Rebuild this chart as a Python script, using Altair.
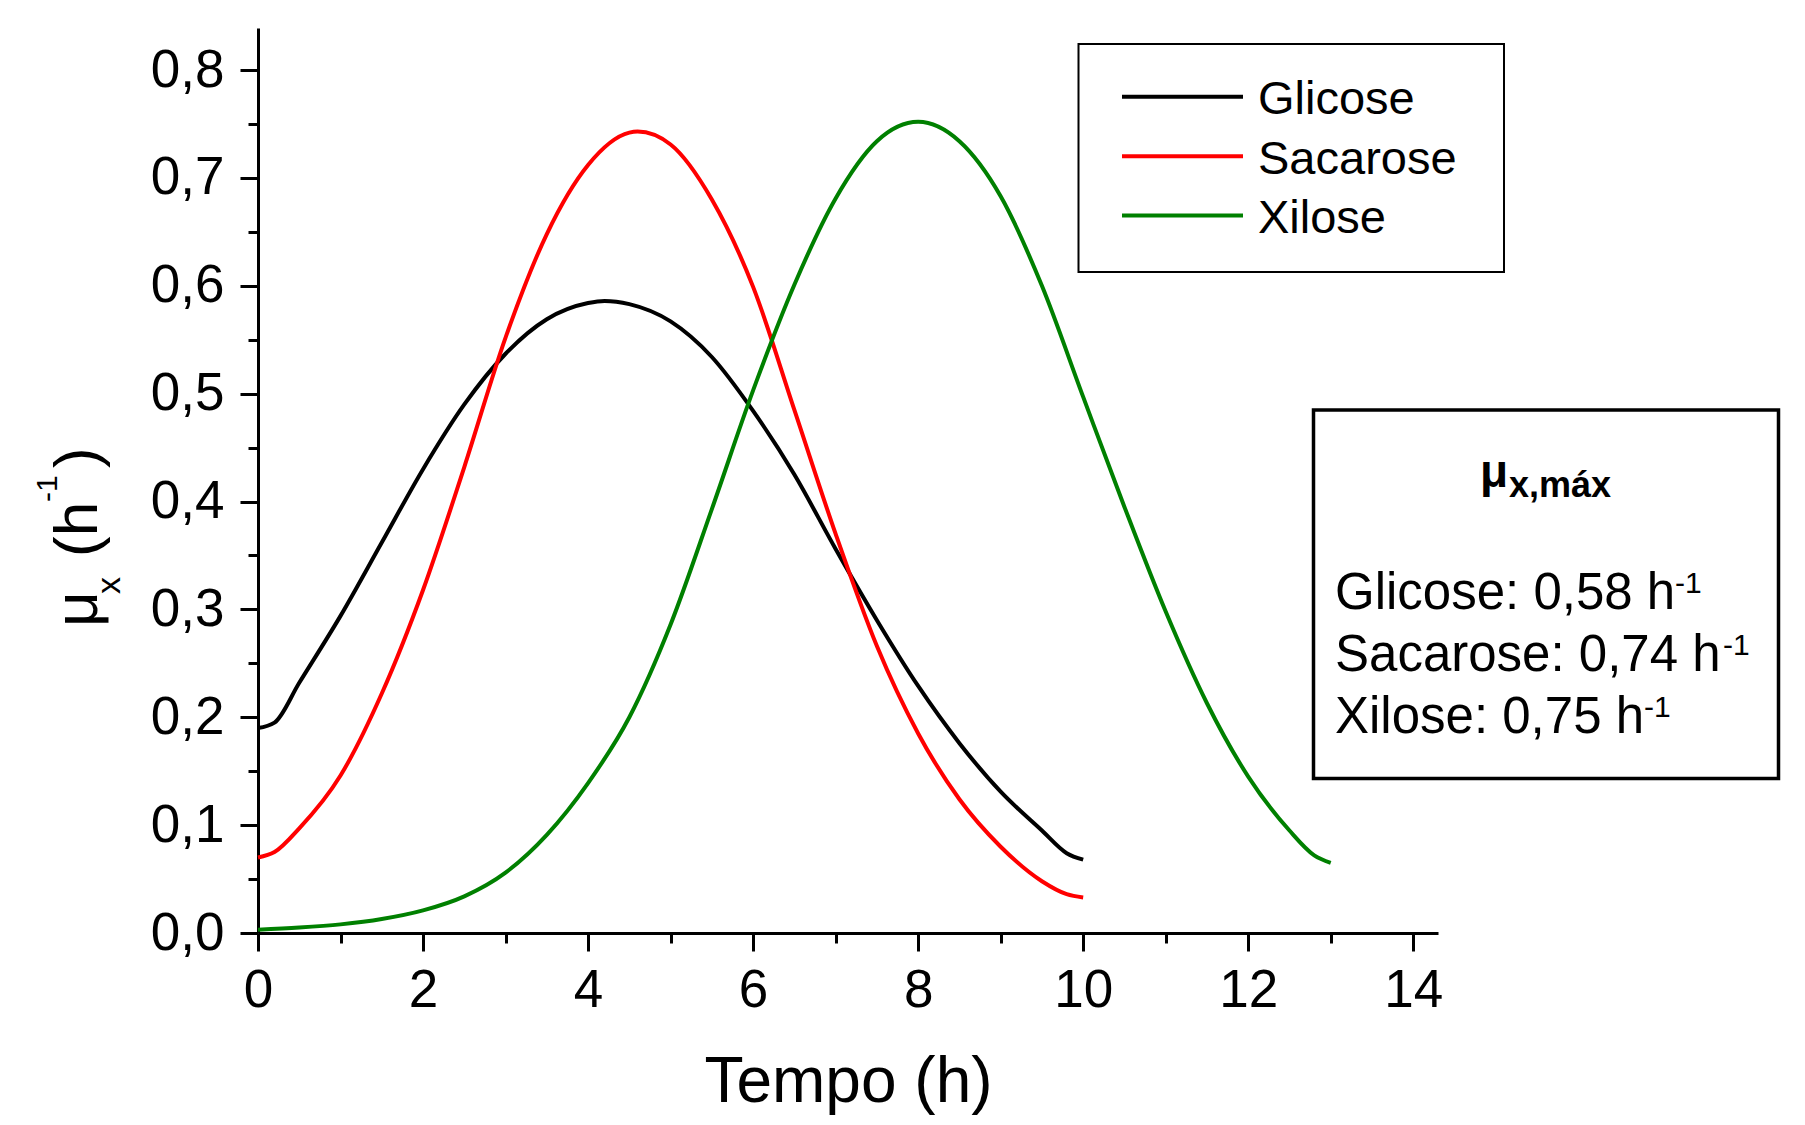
import altair as alt
import pandas as pd

# ---------------- data ----------------
t_glicose = [0, 0.2, 0.5, 1, 1.5, 2, 2.5, 3, 3.5, 4, 4.2, 4.5, 5, 5.5, 6, 6.5, 7, 7.5, 8, 8.5, 9, 9.5, 9.8, 10]
mu_glicose = [0.190, 0.195, 0.232, 0.294, 0.362, 0.430, 0.490, 0.537, 0.569, 0.584, 0.586, 0.583, 0.567,
              0.534, 0.484, 0.425, 0.356, 0.290, 0.229, 0.176, 0.131, 0.095, 0.074, 0.068]

t_sacarose = [0, 0.2, 0.5, 1, 1.5, 2, 2.5, 3, 3.5, 4, 4.5, 4.6, 5, 5.5, 6, 6.5, 7, 7.5, 8, 8.5, 9, 9.5, 9.8, 10]
mu_sacarose = [0.070, 0.075, 0.097, 0.146, 0.222, 0.318, 0.432, 0.552, 0.648, 0.712, 0.742, 0.743, 0.731,
               0.680, 0.599, 0.485, 0.370, 0.266, 0.185, 0.124, 0.080, 0.048, 0.036, 0.033]

t_xilose = [0, 0.5, 1, 1.5, 2, 2.5, 3, 3.5, 4, 4.5, 5, 5.5, 6, 6.5, 7, 7.5, 8, 8.5, 9, 9.5, 10,
            10.5, 11, 11.5, 12, 12.5, 12.8, 13]
mu_xilose = [0.003, 0.005, 0.008, 0.013, 0.021, 0.034, 0.056, 0.091, 0.139, 0.200, 0.286, 0.393, 0.503,
             0.601, 0.681, 0.734, 0.752, 0.734, 0.683, 0.600, 0.497, 0.395, 0.298, 0.213, 0.145, 0.095,
             0.072, 0.065]

series_names = ["Glicose", "Sacarose", "Xilose"]
series_colors = ["#000000", "#ff0000", "#008000"]
mu_max_labels = ["0,58", "0,74", "0,75"]

x_tick_values = list(range(0, 15))
y_tick_values = [round(0.05 * i, 2) for i in range(17)]

# ---------------- build table ----------------
rows = []
for name, ts, vs in zip(series_names, [t_glicose, t_sacarose, t_xilose],
                        [mu_glicose, mu_sacarose, mu_xilose]):
    for t, v in zip(ts, vs):
        rows.append({"serie": name, "t": t, "mu": v})
df = pd.DataFrame(rows)

FONT = "Liberation Sans"
one = pd.DataFrame({"k": [0]})

x_axis = alt.Axis(
    values=x_tick_values,
    labelExpr="datum.value % 2 == 0 ? datum.label : ''",
    tickSize={"condition": {"test": "datum.value % 2 == 0", "value": 18}, "value": 10},
    tickWidth=3, tickColor="black", domainWidth=3, domainColor="black",
    labelFont=FONT, labelFontSize=53, labelColor="black", labelPadding=13,
    labelFlush=False, labelOverlap=False, grid=False,
    title="Tempo (h)", titleFont=FONT, titleFontSize=64, titleFontWeight="normal",
    titleColor="black", titleY=117,
)
y_axis = alt.Axis(
    values=y_tick_values,
    labelExpr="(round(datum.value*100) % 10 == 0) ? replace(format(datum.value, '.1f'), '.', ',') : ''",
    tickSize={"condition": {"test": "round(datum.value*100) % 10 == 0", "value": 18}, "value": 10},
    tickWidth=3, tickColor="black", domainWidth=3, domainColor="black",
    labelFont=FONT, labelFontSize=53, labelColor="black", labelPadding=16,
    labelFlush=False, labelOverlap=False, grid=False, title=None,
)

lines = alt.Chart(df).mark_line(strokeWidth=4, interpolate="monotone").encode(
    x=alt.X("t:Q", scale=alt.Scale(domain=[0, 14.3], nice=False, zero=False), axis=x_axis),
    y=alt.Y("mu:Q", scale=alt.Scale(domain=[0, 0.839], nice=False), axis=y_axis),
    color=alt.Color("serie:N", scale=alt.Scale(domain=series_names, range=series_colors), legend=None),
)


def txt(s, x, y, size, weight="normal", angle=None):
    kw = dict(align="left", baseline="alphabetic", font=FONT, fontSize=size,
              fontWeight=weight, color="black")
    if angle is not None:
        kw["angle"] = angle
    return alt.Chart(one).mark_text(**kw).encode(
        x=alt.value(x), y=alt.value(y), text=alt.value(s))


layers = [lines]

# y-axis title: mu_x (h^-1)
layers += [
    txt("μ", -161, 599, 62, angle=270),
    txt("x", -138, 566, 34, angle=270),
    txt("(h", -161, 529, 62, angle=270),
    txt("-1", -201, 474, 30, angle=270),
    txt(")", -161, 440, 62, angle=270),
]

# legend box
layers.append(alt.Chart(one).mark_rect(fillOpacity=0, stroke="black", strokeWidth=2).encode(
    x=alt.value(820.5), x2=alt.value(1246), y=alt.value(16), y2=alt.value(244)))
leg_line_y = [68.7, 128.3, 187.5]
leg_text_y = [86, 145.5, 204.5]
for name, col, ly, ty in zip(series_names, series_colors, leg_line_y, leg_text_y):
    layers.append(alt.Chart(one).mark_rule(color=col, strokeWidth=4).encode(
        x=alt.value(864), x2=alt.value(985), y=alt.value(ly)))
    layers.append(txt(name, 1000, ty, 47))

# mu max box
layers.append(alt.Chart(one).mark_rect(fillOpacity=0, stroke="black", strokeWidth=3.5).encode(
    x=alt.value(1055.5), x2=alt.value(1520.5), y=alt.value(382), y2=alt.value(750.5)))
layers.append(txt("μ", 1222, 459, 46, weight="bold"))
layers.append(txt("x,máx", 1251, 469, 36, weight="bold"))
line_y = [581, 643, 705]
sup_x = [1417, 1465, 1386]
for name, val, ly, sx in zip(series_names, mu_max_labels, line_y, sup_x):
    layers.append(txt(f"{name}: {val} h", 1077, ly, 51))
    layers.append(txt("-1", sx, ly - 16, 30))

chart = alt.layer(*layers).properties(
    width=1180, height=905,
    padding={"left": 250, "top": 20, "right": 350, "bottom": 184},
    autosize=alt.AutoSizeParams(type="none"),
    background="white",
).configure_view(stroke=None)

chart.save("out.html", embed_options={"renderer": "svg", "actions": False})
